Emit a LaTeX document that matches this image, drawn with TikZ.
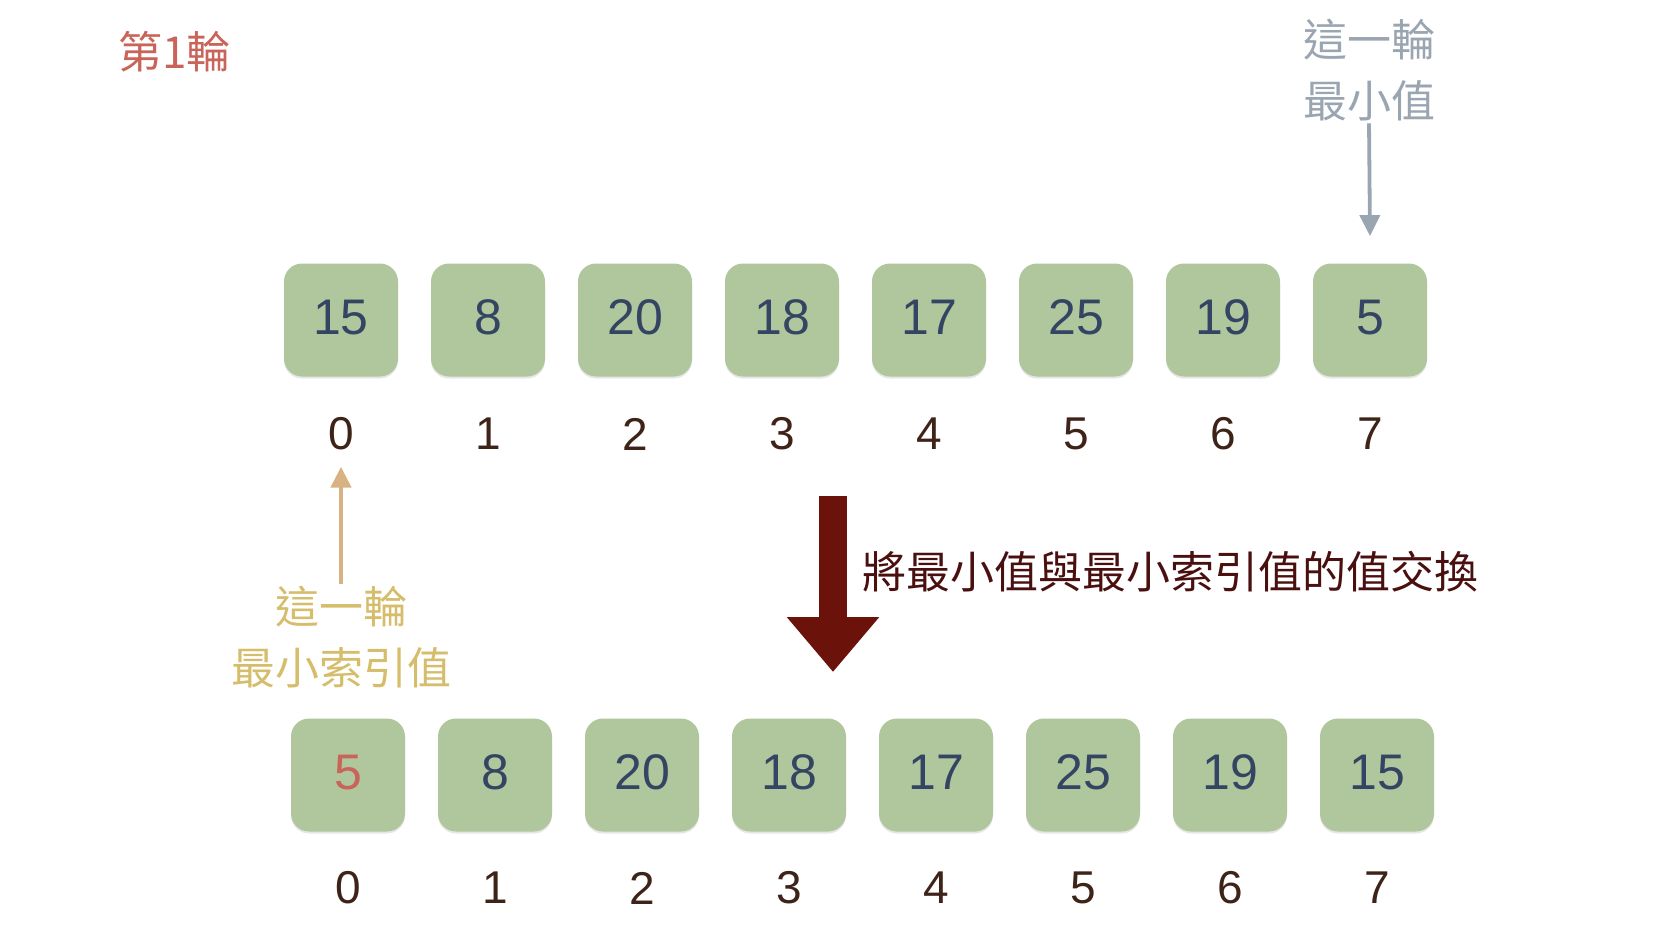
\documentclass[tikz,border=0pt]{standalone}
\usepackage{fontspec}
\setmainfont{Liberation Sans}
\newfontfamily\cjk{Noto Sans CJK TC}
\usepackage{xcolor}
\usetikzlibrary{positioning,arrows.meta,shadows,calc}

\definecolor{cellfill}{HTML}{B0C69C}
\definecolor{cellnum}{HTML}{344463}
\definecolor{idxcol}{HTML}{3E2318}
\definecolor{titlered}{HTML}{C8645A}
\definecolor{greycol}{HTML}{9AA5B2}
\definecolor{tanarrow}{HTML}{D8B283}
\definecolor{tantext}{HTML}{D5BD6C}
\definecolor{swapred}{HTML}{6B130B}
\definecolor{swaptext}{HTML}{4A0F0F}

\begin{document}
\begin{tikzpicture}[x=0.5pt, y=-0.5pt,
    cell/.style={fill=cellfill, rounded corners=9pt, minimum width=57pt, minimum height=56.5pt,
      inner sep=0pt, text depth=3pt, font=\fontsize{25}{30}\selectfont, text=cellnum,
      drop shadow={shadow xshift=0pt, shadow yshift=-1pt, opacity=0.2}},
    idx/.style={font=\fontsize{23}{27}\selectfont, text=idxcol, inner sep=0pt},
    note/.style={font=\cjk\fontsize{22}{30.5}\selectfont, align=center, inner sep=1pt},
    ptr/.style={-{Triangle[width=10pt,length=10.5pt]}, line width=1.9pt}]

  \useasboundingbox (0,0) rectangle (1668,926);

  % Title
  \node[font=\cjk\fontsize{22}{26}\selectfont, text=titlered, anchor=west, inner sep=0pt] (title) at (118,52) {第1輪};

  % Row before swap
  \foreach \v [count=\i from 0] in {15,8,20,18,17,25,19,5} {
    \node[cell] (t\i) at (341+147*\i, 320) {\v};
    \node[idx] (ti\i) at (341+147*\i, 434) {\i};
  }

  % Row after swap
  \foreach \v/\c [count=\i from 0] in {5/titlered,8/cellnum,20/cellnum,18/cellnum,17/cellnum,25/cellnum,19/cellnum,15/cellnum} {
    \node[cell, text=\c] (b\i) at (348+147*\i, 775) {\v};
    \node[idx] (bi\i) at (348+147*\i, 888) {\i};
  }

  % Minimum value of this round
  \node[note, text=greycol] (minval) at (1369,70) {這一輪\\最小值};
  \draw[ptr, greycol] (minval.south) -- ([yshift=13.5pt]t7.north);

  % Minimum index of this round
  \node[note, text=tantext] (minidx) at (341,637) {這一輪\\最小索引值};
  \draw[ptr, tanarrow, line width=2.3pt] (minidx.north) -- ([yshift=-8pt]ti0.south);

  % Swap
  \coordinate (swaps) at (833,496);
  \coordinate (swape) at (833,672);
  \draw[swapred, line width=14pt, -{Triangle[width=44.5pt,length=27.5pt]}] (swaps) -- (swape);
  \node[font=\cjk\fontsize{22}{26}\selectfont, text=swaptext, anchor=west, inner sep=0pt] (swaplbl) at (862,572) {將最小值與最小索引值的值交換};

\end{tikzpicture}
\end{document}
